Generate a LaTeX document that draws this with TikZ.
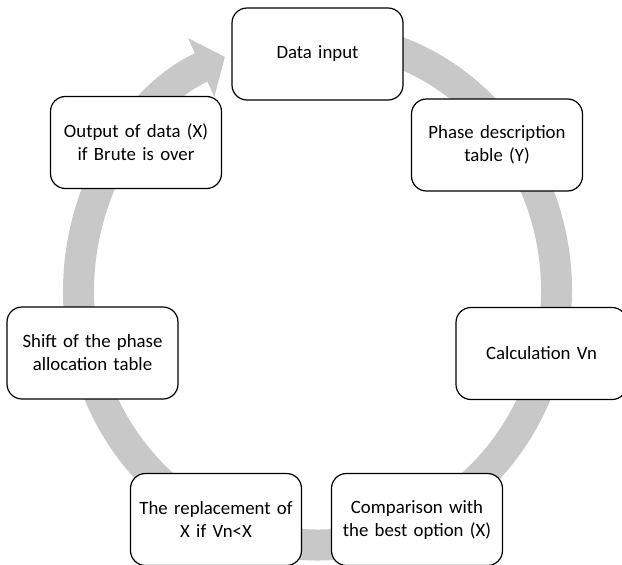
\documentclass[tikz,border=0pt]{standalone}
\usepackage{fontspec}
\setmainfont{Carlito}
\usepackage{tikz}
\usetikzlibrary{arrows.meta}
\definecolor{ringgray}{RGB}{200,200,200}
\tikzstyle{block} = [rectangle, draw, line width=1.2pt, fill=white, text width=160pt, align=center, rounded corners=15pt, minimum width=171pt, minimum height=92pt, font=\fontsize{18.8}{23}\selectfont]
\tikzstyle{ring} = [draw, line width=31pt, color=ringgray, -{Triangle[length=26pt,width=63pt]}]

\begin{document}
\begin{tikzpicture}[x=1pt, y=-1pt]
		\useasboundingbox (0,0) rectangle (622,565);
		% Cycle arrow behind the boxes
		\coordinate (hub) at (317.5,291);
		\path [ring] (hub) ++(-85:239 and 254) arc [start angle=-85, end angle=247.2, x radius=239, y radius=254];
		% Place nodes
		\node [block] (input) at (317.5,54) {Data input};
		\node [block] (phase) at (497,145) {Phase description\\table (Y)};
		\node [block] (calc) at (541.5,353.5) {Calculation Vn};
		\node [block] (compare) at (417,519.5) {Comparison with\\the best option (X)};
		\node [block] (replace) at (216,519.5) {The replacement of\\X if Vn<X};
		\node [block] (shift) at (92.5,353) {Shift of the phase\\allocation table};
		\node [block] (output) at (136,142.5) {Output of data (X)\\if Brute is over};
	\end{tikzpicture}
\end{document}
